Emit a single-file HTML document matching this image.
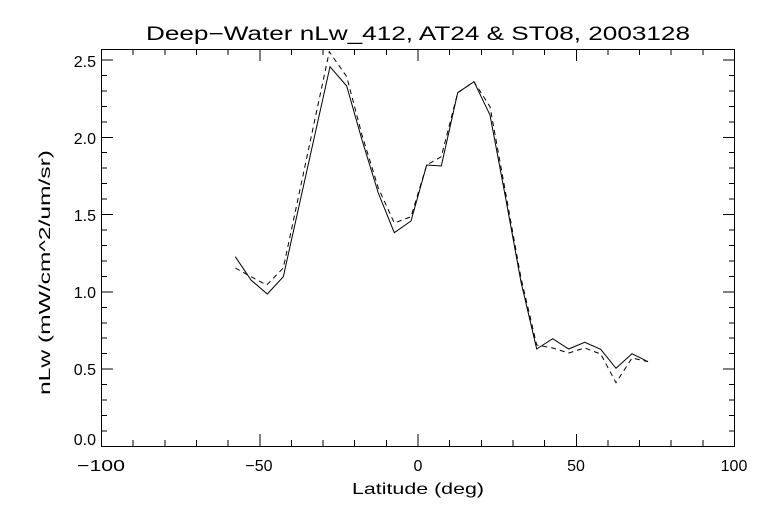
<!DOCTYPE html>
<html><head><meta charset="utf-8"><style>body{margin:0;background:#fff}svg{display:block}text{font-family:"Liberation Sans",sans-serif;fill:#000}</style></head><body>
<svg width="768" height="512" viewBox="0 0 768 512" xmlns="http://www.w3.org/2000/svg">
<rect width="768" height="512" fill="#fff"/>
<g stroke="#000" stroke-width="1" fill="none" shape-rendering="crispEdges">
<rect x="101.5" y="49.5" width="633" height="397"/>
<path d="M101.5 446v-12M734.5 446v-12M101.5 49v12M734.5 49v12
M259.75 446v-12M418 446v-12M576.25 446v-12M259.75 49v12M418 49v12M576.25 49v12
M133.2 446v-6M164.8 446v-6M196.5 446v-6M228.1 446v-6M291.4 446v-6M323 446v-6M354.7 446v-6M386.3 446v-6M449.7 446v-6M481.3 446v-6M513 446v-6M544.6 446v-6M607.9 446v-6M639.5 446v-6M671.2 446v-6M702.8 446v-6
M133.2 49v6M164.8 49v6M196.5 49v6M228.1 49v6M291.4 49v6M323 49v6M354.7 49v6M386.3 49v6M449.7 49v6M481.3 49v6M513 49v6M544.6 49v6M607.9 49v6M639.5 49v6M671.2 49v6M702.8 49v6"/>
<path d="M101 446.5h12M101 369.2h12M101 291.9h12M101 214.6h12M101 137.3h12M101 60h12
M735 446.5h-12M735 369.2h-12M735 291.9h-12M735 214.6h-12M735 137.3h-12M735 60h-12
M101 431h6M101 415.5h6M101 400h6M101 384.6h6M101 353.7h6M101 338.2h6M101 322.8h6M101 307.3h6M101 276.4h6M101 260.9h6M101 245.5h6M101 230h6M101 199.1h6M101 183.6h6M101 168.2h6M101 152.7h6M101 121.8h6M101 106.3h6M101 90.9h6M101 75.4h6
M735 431h-6M735 415.5h-6M735 400h-6M735 384.6h-6M735 353.7h-6M735 338.2h-6M735 322.8h-6M735 307.3h-6M735 276.4h-6M735 260.9h-6M735 245.5h-6M735 230h-6M735 199.1h-6M735 183.6h-6M735 168.2h-6M735 152.7h-6M735 121.8h-6M735 106.3h-6M735 90.9h-6M735 75.4h-6"/>
</g>
<polyline fill="none" stroke="#000" stroke-width="1" points="235.3,256.7 251,280 267.3,294 283.3,276.7 330,66.7 346.7,86 362,140 378.3,193 394.3,232.7 411,221 426.7,165 441.3,166 457.7,92.7 474,81.7 490,115 506,200 521,282 536.7,349 552.7,338.7 568.7,349 584.7,342.3 600.7,349.3 616,368.3 632,353.7 648,361.7"/>
<polyline fill="none" stroke="#000" stroke-width="1" stroke-dasharray="5,4" points="235.3,268 251,276.7 266.7,285 283.3,268 329.3,51.7 346.7,76.7 362,135 378.3,188 394.3,223 411,216.7 426.7,165 441.3,156.7 457.7,92.7 474,81.7 490,106.7 506,195 521,278 536.7,345 552.7,348 568.7,353 584.7,348 600.7,354 616,382.7 632,358 648,361.7"/>
<g font-size="16">
<text x="146" y="40" font-size="19" textLength="544" lengthAdjust="spacingAndGlyphs">Deep−Water nLw_412, AT24 &amp; ST08, 2003128</text>
<g text-anchor="end"><text x="96" y="67">2.5</text><text x="96" y="144">2.0</text><text x="96" y="221">1.5</text><text x="96" y="298">1.0</text><text x="96" y="375">0.5</text><text x="96" y="445">0.0</text></g>
<text x="77" y="471" textLength="48" lengthAdjust="spacingAndGlyphs">−100</text>
<g text-anchor="middle"><text x="259" y="471">−50</text><text x="418" y="471">0</text><text x="576" y="471">50</text><text x="734" y="471">100</text></g>
<text x="352" y="494" textLength="132" lengthAdjust="spacingAndGlyphs">Latitude (deg)</text>
<text transform="translate(50,395) rotate(-90)" textLength="245" lengthAdjust="spacingAndGlyphs">nLw (mW/cm^2/um/sr)</text>
</g>
</svg>
</body></html>
